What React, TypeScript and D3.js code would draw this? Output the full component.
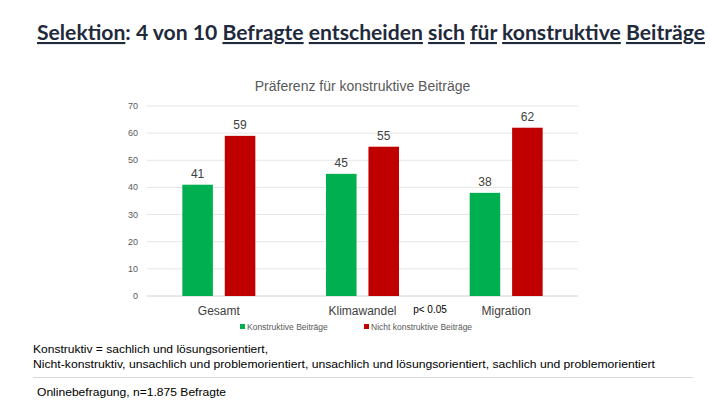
import * as d3 from 'd3'

const categories = ['Gesamt', 'Klimawandel', 'Migration']
const konstruktiv = [41, 45, 38]
const nichtKonstruktiv = [59, 55, 62]
const seriesNames = ['Konstruktive Beiträge', 'Nicht konstruktive Beiträge']
const seriesColors = ['#00b050', '#c00000']
const yTicks = [0, 10, 20, 30, 40, 50, 60, 70]

const W = 710
const H = 400
const PLOT = {left: 147, right: 578, top: 106, bottom: 296}

const titleWords: [string, boolean][] = [
  ['Selektion', true],
  [': 4 von 10 ', false],
  ['Befragte', true],
  [' ', false],
  ['entscheiden', true],
  [' ', false],
  ['sich', true],
  [' ', false],
  ['für', true],
  [' ', false],
  ['konstruktive', true],
  [' ', false],
  ['Beiträge', true],
]

export default function App() {
  const x0 = d3.scaleBand().domain(categories).range([PLOT.left, PLOT.right])
  const x1 = d3
    .scaleBand()
    .domain(seriesNames)
    .range([0, 73])
    .paddingInner(0.28)
  const y = d3.scaleLinear().domain([0, 70]).range([PLOT.bottom, PLOT.top])
  const values = [konstruktiv, nichtKonstruktiv]
  const barOffset = (x0.bandwidth() - 73) / 2
  const sans = "'Liberation Sans', Arial, sans-serif"

  return (
    <svg
      width={W}
      height={H}
      style={{position: 'absolute', left: 0, top: 0, background: '#fff'}}>
      <text
        x={37}
        y={40}
        fontFamily="Lato, 'Open Sans', sans-serif"
        fontWeight={700}
        fontSize={21}
        fill="#1f2a3c"
        textLength={668}
        lengthAdjust="spacingAndGlyphs">
        {titleWords.map(([w, u], i) => (
          <tspan key={i} textDecoration={u ? 'underline' : 'none'}>
            {w}
          </tspan>
        ))}
      </text>

      <text
        x={(PLOT.left + PLOT.right) / 2}
        y={91}
        textAnchor="middle"
        fontFamily={sans}
        fontSize={14}
        fill="#595959">
        Präferenz für konstruktive Beiträge
      </text>

      {yTicks.map(t => (
        <g key={t}>
          <line
            x1={PLOT.left}
            x2={PLOT.right}
            y1={y(t)}
            y2={y(t)}
            stroke={t === 0 ? '#d0d0d0' : '#e6e6e6'}
            strokeWidth={1}
          />
          <text
            x={138}
            y={y(t) + 3}
            textAnchor="end"
            fontFamily={sans}
            fontSize={9}
            fill="#595959">
            {t}
          </text>
        </g>
      ))}

      {categories.map((c, ci) => (
        <g key={c}>
          {seriesNames.map((s, si) => {
            const v = values[si][ci]
            const bx = (x0(c) as number) + barOffset + (x1(s) as number)
            return (
              <g key={s}>
                <rect
                  x={bx}
                  y={y(v)}
                  width={x1.bandwidth()}
                  height={y(0) - y(v)}
                  fill={seriesColors[si]}
                />
                <text
                  x={bx + x1.bandwidth() / 2}
                  y={y(v) - 7}
                  textAnchor="middle"
                  fontFamily={sans}
                  fontSize={12}
                  fill="#404040">
                  {v}
                </text>
              </g>
            )
          })}
          <text
            x={(x0(c) as number) + x0.bandwidth() / 2}
            y={315}
            textAnchor="middle"
            fontFamily={sans}
            fontSize={12}
            fill="#404040">
            {c}
          </text>
        </g>
      ))}

      <text x={430} y={313} textAnchor="middle" fontFamily={sans} fontSize={10} fill="#000">
        p&lt; 0.05
      </text>

      {seriesNames.map((s, i) => {
        const lx = i === 0 ? 240 : 364
        return (
          <g key={s}>
            <rect x={lx} y={324} width={5} height={5} fill={seriesColors[i]} />
            <text x={lx + 7} y={329.5} fontFamily={sans} fontSize={8.5} fill="#595959">
              {s}
            </text>
          </g>
        )
      })}

      <text x={33} y={353} fontFamily={sans} fontSize={11} fill="#000" textLength={235} lengthAdjust="spacingAndGlyphs">
        Konstruktiv = sachlich und lösungsorientiert,
      </text>
      <text x={33} y={368} fontFamily={sans} fontSize={11} fill="#000" textLength={622} lengthAdjust="spacingAndGlyphs">
        Nicht-konstruktiv, unsachlich und problemorientiert, unsachlich und lösungsorientiert, sachlich und problemorientiert
      </text>
      <line x1={33} x2={693} y1={377.5} y2={377.5} stroke="#d9d9d9" strokeWidth={1} />
      <text x={37} y={396} fontFamily={sans} fontSize={11} fill="#000" textLength={189} lengthAdjust="spacingAndGlyphs">
        Onlinebefragung, n=1.875 Befragte
      </text>
    </svg>
  )
}
